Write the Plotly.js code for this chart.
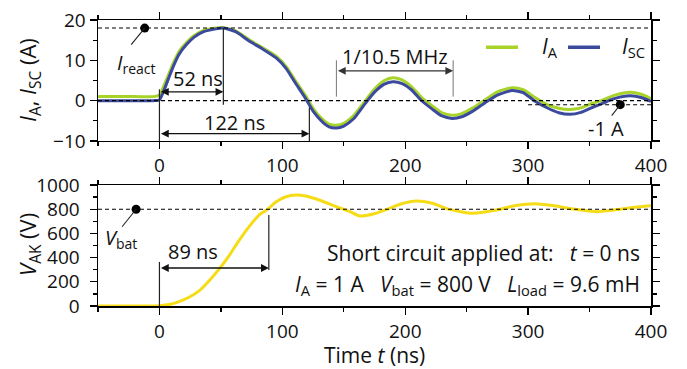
<!DOCTYPE html>
<html>
<head>
<meta charset="utf-8">
<script src="https://cdn.plot.ly/plotly-3.0.1.min.js"></script>
<style>html,body{margin:0;padding:0;background:#fff;}#chart{width:687px;height:369px;}</style>
</head>
<body>
<div id="chart"></div>
<script>
// ---- data ----
const timeI = [-50, -20, -5, 0, 4, 8, 12, 16, 22, 28, 36, 46, 52, 62, 73, 84, 95, 103, 111, 119, 125, 133, 138, 144, 150, 158, 166, 175, 183, 190, 197, 205, 213, 222, 230, 238, 246, 255, 265, 275, 287, 296, 305, 315, 325, 334, 343, 352, 361, 370, 383, 392, 400];
const currentA = [1.0, 1.0, 1.0, 1.4, 4.0, 6.9, 9.8, 12.2, 14.4, 16.1, 17.4, 18.0, 18.1, 17.3, 15.1, 13.1, 11.0, 8.5, 4.8, 1.2, -1.9, -4.7, -5.8, -6.1, -5.6, -3.7, -0.6, 2.9, 5.0, 5.7, 5.2, 3.5, 0.9, -1.3, -3.0, -3.6, -3.2, -1.8, 0.2, 2.2, 3.2, 2.7, 0.9, -0.9, -1.9, -2.2, -1.8, -0.7, 0.2, 1.3, 2.1, 1.6, 0.5];
const currentSC = [0.0, 0.0, 0.0, 0.2, 2.8, 6.0, 9.0, 11.5, 13.9, 15.7, 17.1, 17.8, 18.0, 17.1, 14.8, 12.8, 10.6, 8.0, 4.2, 0.5, -2.6, -5.4, -6.5, -6.8, -6.3, -4.5, -1.3, 2.1, 4.1, 4.7, 4.3, 2.7, 0.1, -2.1, -3.8, -4.4, -4.0, -2.6, -0.5, 1.4, 2.5, 2.0, 0.0, -1.7, -3.0, -3.4, -2.9, -1.7, -0.6, 0.5, 1.2, 0.8, -0.2];
const timeV = [-50, -20, 0, 8, 16, 24, 33, 41, 49, 57, 65, 73, 81, 88, 95, 103, 111, 119, 130, 144, 155, 163, 174, 185, 197, 209, 222, 236, 255, 274, 290, 305, 320, 338, 356, 375, 390, 400];
const voltageAK = [0, 0, 3, 12, 36, 72, 132, 215, 311, 421, 545, 656, 752, 799, 862, 903, 917, 909, 876, 821, 780, 744, 760, 799, 845, 868, 849, 799, 766, 793, 830, 845, 830, 800, 780, 800, 820, 829];
const xTicks = [0, 100, 200, 300, 400];
const xTickLabels = ['0', '100', '200', '300', '400'];
const iReact = 18;
const iEnd = -1;
const vBat = 800;
const tPeak = 52, tZero = 122, tVbat = 89;
const tOscA = 144, tOscB = 239;
const legendNames = ['<i>I</i><sub>A</sub>', '<i>I</i><sub>SC</sub>'];

const FONT = 'Open Sans, Noto Sans, DejaVu Sans, sans-serif';
const GREEN = '#a8d42a', BLUE = '#3b4a9c', YELLOW = '#f6dc17';
const DASH = '4px,3px';

const traces = [
  {x: timeI, y: currentA, type: 'scatter', mode: 'lines', name: legendNames[0],
   line: {color: GREEN, width: 3, shape: 'spline', smoothing: 0.6}, xaxis: 'x', yaxis: 'y'},
  {x: timeI, y: currentSC, type: 'scatter', mode: 'lines', name: legendNames[1],
   line: {color: BLUE, width: 3, shape: 'spline', smoothing: 0.6}, xaxis: 'x', yaxis: 'y'},
  {x: timeV, y: voltageAK, type: 'scatter', mode: 'lines', name: 'V_AK',
   line: {color: YELLOW, width: 3, shape: 'spline', smoothing: 0.6}, xaxis: 'x2', yaxis: 'y2'},
  {x: [-12, 375], y: [iReact, iEnd], type: 'scatter', mode: 'markers',
   marker: {color: 'black', size: 9}, xaxis: 'x', yaxis: 'y'},
  {x: [-19], y: [vBat], type: 'scatter', mode: 'markers',
   marker: {color: 'black', size: 9}, xaxis: 'x2', yaxis: 'y2'}
];

const axCommon = {
  showline: true, linecolor: 'black', linewidth: 1.5, mirror: 'allticks',
  ticks: 'outside', ticklen: 7, tickwidth: 1.3, tickcolor: 'black',
  showgrid: false, zeroline: false,
  tickfont: {family: FONT, size: 19, color: '#111'}
};

function line(xref, yref, x0, y0, x1, y1, dash, color, width) {
  return {type: 'line', xref: xref, yref: yref, x0: x0, y0: y0, x1: x1, y1: y1,
          line: {color: color || 'black', width: width || 1.1, dash: dash || 'solid'}};
}

// legend placement (paper fractions)
const legY = 0.905;
const shapes = [
  line('x', 'y', -50, iReact, 400, iReact, DASH),
  line('x', 'y', -50, 0, 400, 0, DASH),
  line('x', 'y', 300, iEnd, 400, iEnd, DASH),
  line('x2', 'y2', -50, vBat, 400, vBat, DASH),
  line('x', 'y', 0, -10, 0, 2.8, 'solid', '#222', 1.2),
  line('x', 'y', tPeak, -1, tPeak, iReact, 'solid', '#222', 1.2),
  line('x', 'y', tZero, -10, tZero, -1.7, 'solid', '#222', 1.2),
  line('x', 'y', tOscA, 1, tOscA, 10, 'solid', '#777', 1),
  line('x', 'y', tOscB, 1, tOscB, 10, 'solid', '#777', 1),
  line('x', 'y', -12, iReact, -23, 13.9, 'solid', '#222', 1.1),
  line('x', 'y', 375, iEnd, 368, -3.7, 'solid', '#222', 1.1),
  line('x2', 'y2', 0, 0, 0, 364, 'solid', '#222', 1.2),
  line('x2', 'y2', tVbat, 298, tVbat, 752, 'solid', '#222', 1.2),
  line('x2', 'y2', -19, vBat, -30.4, 655, 'solid', '#222', 1.1),
  line('paper', 'paper', 0.7016, legY, 0.7595, legY, 'solid', GREEN, 3.5),
  line('paper', 'paper', 0.8499, legY, 0.9078, legY, 'solid', BLUE, 3.5)
];

function arrow(xref, yref, x0, x1, y, col) {
  return {xref: xref, yref: yref, axref: xref, ayref: yref, x: x1, y: y, ax: x0, ay: y,
          text: '', showarrow: true, arrowhead: 2, startarrowhead: 2, arrowside: 'end+start',
          arrowsize: 1.2, startarrowsize: 1.2, arrowwidth: 1.3, arrowcolor: col || '#111'};
}
function label(xref, yref, x, y, text, xanchor, size, angle) {
  return {xref: xref, yref: yref, x: x, y: y, text: text, showarrow: false,
          xanchor: xanchor || 'center', yanchor: 'middle', textangle: angle || 0,
          font: {family: FONT, size: size || 20, color: '#111'}};
}

const annotations = [
  arrow('x', 'y', 0, tPeak, 2.2),
  arrow('x', 'y', 0, tZero, -8.2),
  arrow('x', 'y', tOscA, tOscB, 7.4, '#333'),
  arrow('x2', 'y2', 0, tVbat, 314),
  label('x', 'y', -19, 9.2, '<i>I</i><sub>react</sub>'),
  label('x', 'y', 31, 5.4, '52 ns'),
  label('x', 'y', 61, -5.3, '122 ns'),
  label('x', 'y', 192, 11, '1/10.5 MHz'),
  label('x', 'y', 363, -7, '-1 A'),
  label('x2', 'y2', 27.7, 449, '89 ns'),
  label('x2', 'y2', -31, 554, '<i>V</i><sub>bat</sub>'),
  label('x2', 'y2', 392.5, 438, 'Short circuit applied at:   <i>t</i> = 0 ns', 'right', 21),
  label('x2', 'y2', 392.5, 174, '<i>I</i><sub>A</sub> = 1 A   <i>V</i><sub>bat</sub> = 800 V   <i>L</i><sub>load</sub> = 9.6 mH', 'right', 21),
  label('paper', 'paper', 0.7993, legY, legendNames[0], 'left', 21),
  label('paper', 'paper', 0.9439, legY, legendNames[1], 'left', 21),
  label('paper', 'paper', -0.1248, 0.790, '<i>I</i><sub>A</sub>, <i>I</i><sub>SC</sub> (A)', 'center', 22, -90),
  label('paper', 'paper', -0.1248, 0.217, '<i>V</i><sub>AK</sub> (V)', 'center', 22, -90),
  label('paper', 'paper', 0.5, -0.171, 'Time <i>t</i> (ns)', 'center', 21)
];

const layout = {
  width: 687, height: 369,
  margin: {l: 98, r: 36, t: 20, b: 63, pad: 0},
  paper_bgcolor: 'white', plot_bgcolor: 'white',
  font: {family: FONT, size: 19, color: '#111'},
  showlegend: false,
  xaxis: Object.assign({}, axCommon, {domain: [0, 1], range: [-50, 400], anchor: 'y',
          tickvals: xTicks, ticktext: xTickLabels,
          minor: {tickvals: [-50, 50, 150, 250, 350], ticklen: 4, ticks: 'outside', tickcolor: 'black'}}),
  yaxis: Object.assign({}, axCommon, {domain: [0.577, 1], range: [-10, 20], anchor: 'x',
          tickvals: [-10, 0, 10, 20], minor: {tickvals: [-5, 5, 15], ticklen: 4, ticks: 'outside', tickcolor: 'black'}}),
  xaxis2: Object.assign({}, axCommon, {domain: [0, 1], range: [-50, 400], anchor: 'y2',
          tickvals: xTicks, ticktext: xTickLabels, ticklabelstandoff: 1,
          minor: {tickvals: [-50, 50, 150, 250, 350], ticklen: 4, ticks: 'outside', tickcolor: 'black'}}),
  yaxis2: Object.assign({}, axCommon, {domain: [0, 0.423], range: [0, 1000], anchor: 'x2',
          tickvals: [0, 200, 400, 600, 800, 1000], ticklabelstandoff: 6,
          minor: {tickvals: [100, 300, 500, 700, 900], ticklen: 4, ticks: 'outside', tickcolor: 'black'}}),
  shapes: shapes,
  annotations: annotations
};

Plotly.newPlot('chart', traces, layout, {displayModeBar: false, staticPlot: true});
</script>
</body>
</html>
